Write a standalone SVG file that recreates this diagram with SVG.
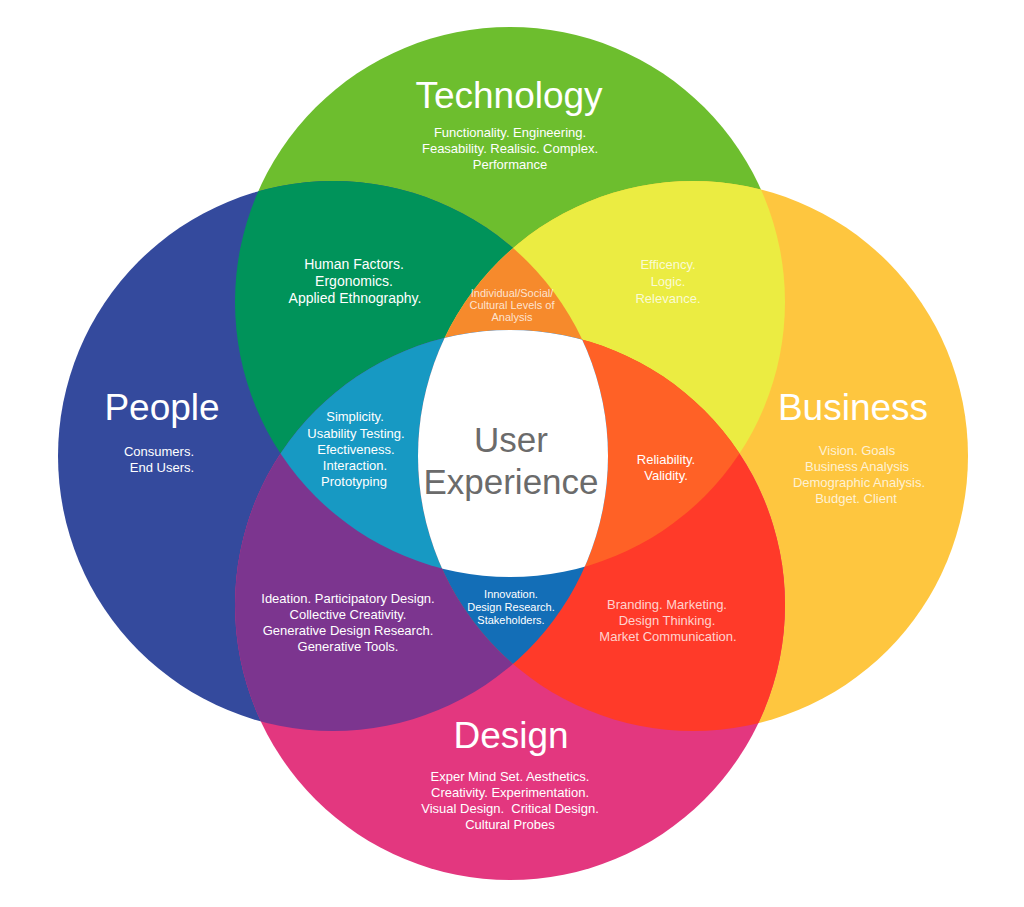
<svg xmlns="http://www.w3.org/2000/svg" width="1024" height="907" viewBox="0 0 1024 907">
<style>
text{font-family:"Liberation Sans",Arial,Helvetica,sans-serif;text-anchor:middle;fill:#fff}
.title{font-size:37px}
.sub{font-size:13px}
.small{font-size:11px}
.mid{font-size:14px}
.faint{fill-opacity:0.78}
.ux{font-size:35px;fill:#6b6b6b}
</style>
<defs>
<clipPath id="cT"><circle cx="510" cy="302" r="275"/></clipPath>
<clipPath id="cP"><circle cx="333" cy="456" r="275"/></clipPath>
<clipPath id="cB"><circle cx="693" cy="456" r="275"/></clipPath>
<clipPath id="cD"><circle cx="510" cy="605" r="275"/></clipPath>
</defs>
<rect width="1024" height="907" fill="#fff"/>

<g id="circles">
<circle id="circle-technology" cx="510" cy="302" r="275" fill="#6dbe2e"/>
<circle id="circle-people" cx="333" cy="456" r="275" fill="#344a9d"/>
<circle id="circle-business" cx="693" cy="456" r="275" fill="#fec63f"/>
<circle id="circle-design" cx="510" cy="605" r="275" fill="#e3377f"/>
</g>

<g id="pairs">
<g id="tech-people" clip-path="url(#cT)"><circle cx="333" cy="456" r="275" fill="#00935a"/></g>
<g id="tech-business" clip-path="url(#cT)"><circle cx="693" cy="456" r="275" fill="#ebec42"/></g>
<g id="people-design" clip-path="url(#cP)"><circle cx="510" cy="605" r="275" fill="#7c358f"/></g>
<g id="business-design" clip-path="url(#cB)"><circle cx="510" cy="605" r="275" fill="#ff3a29"/></g>
</g>

<g id="triples">
<g id="tpb" clip-path="url(#cT)"><g clip-path="url(#cP)"><circle cx="693" cy="456" r="275" fill="#f68a2c"/></g></g>
<g id="tpd" clip-path="url(#cT)"><g clip-path="url(#cP)"><circle cx="510" cy="605" r="275" fill="#1799c3"/></g></g>
<g id="tbd" clip-path="url(#cT)"><g clip-path="url(#cB)"><circle cx="510" cy="605" r="275" fill="#ff6126"/></g></g>
<g id="pbd" clip-path="url(#cP)"><g clip-path="url(#cB)"><circle cx="510" cy="605" r="275" fill="#136eb7"/></g></g>
</g>

<g id="center" clip-path="url(#cT)"><g clip-path="url(#cP)"><g clip-path="url(#cB)"><circle cx="510" cy="605" r="275" fill="#fff"/></g></g></g>

<g id="technology">
<text class="title" x="509" y="108">Technology</text>
<text class="sub" x="510" y="137">Functionality. Engineering.</text>
<text class="sub" x="510" y="153">Feasability. Realisic. Complex.</text>
<text class="sub" x="510" y="169">Performance</text>
</g>

<g id="people">
<text class="title" x="162" y="420">People</text>
<text class="sub" x="159" y="456">Consumers.</text>
<text class="sub" x="162" y="472">End Users.</text>
</g>

<g id="business">
<text class="title" x="853" y="420">Business</text>
<text class="sub faint" x="857" y="455">Vision. Goals</text>
<text class="sub faint" x="857" y="471">Business Analysis</text>
<text class="sub faint" x="859" y="487">Demographic Analysis.</text>
<text class="sub faint" x="856" y="503">Budget. Client</text>
</g>

<g id="design">
<text class="title" x="511" y="748">Design</text>
<text class="sub" x="510" y="781">Exper Mind Set. Aesthetics.</text>
<text class="sub" x="510" y="797">Creativity. Experimentation.</text>
<text class="sub" x="510" y="813">Visual Design.&#160; Critical Design.</text>
<text class="sub" x="510" y="829">Cultural Probes</text>
</g>

<g id="human-factors">
<text class="mid" x="354" y="269">Human Factors.</text>
<text class="mid" x="354" y="286">Ergonomics.</text>
<text class="mid" x="355" y="303">Applied Ethnography.</text>
</g>

<g id="efficiency">
<text class="sub faint" x="668" y="269">Efficency.</text>
<text class="sub faint" x="668" y="286">Logic.</text>
<text class="sub faint" x="668" y="303">Relevance.</text>
</g>

<g id="levels">
<text class="small faint" x="512" y="297">Individual/Social/</text>
<text class="small faint" x="512" y="309">Cultural Levels of</text>
<text class="small faint" x="512" y="321">Analysis</text>
</g>

<g id="usability">
<text class="sub" x="355" y="421">Simplicity.</text>
<text class="sub" x="356" y="438">Usability Testing.</text>
<text class="sub" x="356" y="454">Efectiveness.</text>
<text class="sub" x="355" y="470">Interaction.</text>
<text class="sub" x="354" y="486">Prototyping</text>
</g>

<g id="user-experience">
<text class="ux" x="511" y="452">User</text>
<text class="ux" x="511" y="494">Experience</text>
</g>

<g id="reliability">
<text class="sub" x="666" y="464">Reliability.</text>
<text class="sub" x="666" y="480">Validity.</text>
</g>

<g id="ideation">
<text class="sub" x="348" y="603">Ideation. Participatory Design.</text>
<text class="sub" x="348" y="619">Collective Creativity.</text>
<text class="sub" x="348" y="635">Generative Design Research.</text>
<text class="sub" x="348" y="651">Generative Tools.</text>
</g>

<g id="innovation">
<text class="small" x="511" y="598">Innovation.</text>
<text class="small" x="511" y="611">Design Research.</text>
<text class="small" x="511" y="624">Stakeholders.</text>
</g>

<g id="branding">
<text class="sub faint" x="667" y="609">Branding. Marketing.</text>
<text class="sub faint" x="667" y="625">Design Thinking.</text>
<text class="sub faint" x="668" y="641">Market Communication.</text>
</g>
</svg>
